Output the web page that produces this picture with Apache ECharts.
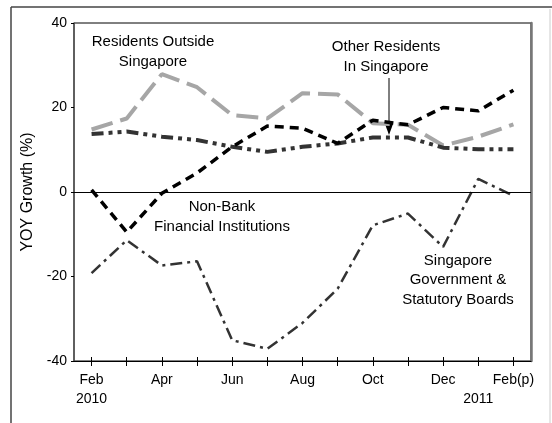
<!DOCTYPE html>
<html>
<head>
<meta charset="utf-8">
<script src="https://cdn.jsdelivr.net/npm/echarts@6/dist/echarts.min.js"></script>
<style>
html,body{margin:0;padding:0;background:#fff;}
#c{width:552px;height:423px;}
</style>
</head>
<body>
<div id="c"></div>
<script>
var months = ['Feb 2010','Mar 2010','Apr 2010','May 2010','Jun 2010','Jul 2010','Aug 2010','Sep 2010','Oct 2010','Nov 2010','Dec 2010','Jan 2011','Feb 2011'];
var tickLabels = ['Feb\n2010','','Apr','','Jun','','Aug','','Oct','','Dec','\n2011','Feb(p)'];
var residentsOutside = [14.8,17.4,27.9,24.8,18.2,17.4,23.4,23.1,16.3,15.9,11.0,13.1,16.0];
var nonBankFI = [0.5,-9.5,-0.3,4.5,10.7,15.6,15.1,11.5,17.0,15.9,20.0,19.2,24.1];
var otherResidents = [13.7,14.3,13.1,12.3,10.7,9.5,10.7,11.5,12.9,12.9,10.5,10.1,10.1];
var govStatBoards = [-19.2,-11.4,-17.4,-16.4,-35.1,-37.1,-31.0,-22.9,-7.9,-5.1,-13.0,3.1,-0.9];
var yTicks = {min:-40, max:40, interval:20};

var FONT = '"Liberation Sans", Arial, sans-serif';
var chart = echarts.init(document.getElementById('c'), null, {renderer:'canvas'});

function txt(x, y, s) {
  return {type:'text', x:x, y:y, style:{text:s, fill:'#000', font:'15px ' + FONT, align:'center', verticalAlign:'middle', lineHeight:19.5}};
}

chart.setOption({
  animation:false,
  backgroundColor:'#fff',
  grid:{left:74, top:23, right:21, bottom:62, show:true, borderColor:'#000', borderWidth:1, backgroundColor:'transparent'},
  xAxis:[{
    type:'category', data:months, boundaryGap:true,
    axisLine:{onZero:false, lineStyle:{color:'#000', width:1}},
    axisTick:{show:true, alignWithLabel:true, interval:0, length:5, lineStyle:{color:'#000'}},
    axisLabel:{interval:0, color:'#000', fontFamily:FONT, fontSize:14, margin:10, lineHeight:19,
      formatter:function(v, i){ return tickLabels[i]; }},
    splitLine:{show:false}
  },{
    type:'category', data:months, boundaryGap:true, position:'bottom',
    axisLine:{show:false, onZero:false},
    axisTick:{show:true, inside:true, alignWithLabel:true, interval:0, length:4, lineStyle:{color:'#000'}},
    axisLabel:{show:false}, splitLine:{show:false}
  }],
  yAxis:[{
    type:'value', min:yTicks.min, max:yTicks.max, interval:yTicks.interval,
    name:'YOY Growth (%)', nameLocation:'middle', nameGap:34,
    nameTextStyle:{color:'#000', fontFamily:FONT, fontSize:16},
    axisLine:{show:true, onZero:false, lineStyle:{color:'#555', width:1.5}},
    axisTick:{show:true, length:3, lineStyle:{color:'#000'}},
    axisLabel:{color:'#000', fontFamily:FONT, fontSize:14, margin:7},
    splitLine:{show:false}
  },{
    type:'value', min:yTicks.min, max:yTicks.max, interval:yTicks.interval, position:'right',
    axisLine:{show:true, onZero:false, lineStyle:{color:'#777', width:2.5}},
    axisTick:{show:false}, axisLabel:{show:false}, splitLine:{show:false}
  }],
  series:[
    {name:'Residents Outside Singapore', type:'line', data:residentsOutside, symbol:'none', smooth:false,
     lineStyle:{color:'#a6a6a6', width:4, type:[22,8], cap:'butt'}, z:2,
     markLine:{silent:true, symbol:'none', label:{show:false}, data:[{yAxis:0}], lineStyle:{color:'#000', width:1, type:'solid'}}},
    {name:'Other Residents In Singapore', type:'line', data:otherResidents, symbol:'none',
     lineStyle:{color:'#333', width:4, type:[12,5,4,5,4,5], cap:'butt'}, z:3},
    {name:'Non-Bank Financial Institutions', type:'line', data:nonBankFI, symbol:'none',
     lineStyle:{color:'#000', width:3.5, type:[9,6], cap:'butt'}, z:4},
    {name:'Singapore Government & Statutory Boards', type:'line', data:govStatBoards, symbol:'none',
     lineStyle:{color:'#333', width:2.5, type:[12,5,3,5], cap:'butt'}, z:3}
  ],
  graphic:[
    {type:'line', shape:{x1:11, y1:7, x2:11, y2:423}, style:{stroke:'#444', lineWidth:1.5}},
    {type:'line', shape:{x1:11, y1:7, x2:552, y2:7}, style:{stroke:'#444', lineWidth:1.5}},
    {type:'line', shape:{x1:550, y1:9, x2:550, y2:423}, style:{stroke:'#ccc', lineWidth:1}},
    txt(153, 52, 'Residents Outside\nSingapore'),
    txt(386, 57, 'Other Residents\nIn Singapore'),
    txt(222, 217, 'Non-Bank\nFinancial Institutions'),
    txt(458, 280, 'Singapore\nGovernment &\nStatutory Boards'),
    {type:'line', shape:{x1:389, y1:78, x2:389, y2:126}, style:{stroke:'#000', lineWidth:1}},
    {type:'polygon', shape:{points:[[385,124],[393,124],[389,135]]}, style:{fill:'#000'}}
  ]
});
</script>
</body>
</html>
